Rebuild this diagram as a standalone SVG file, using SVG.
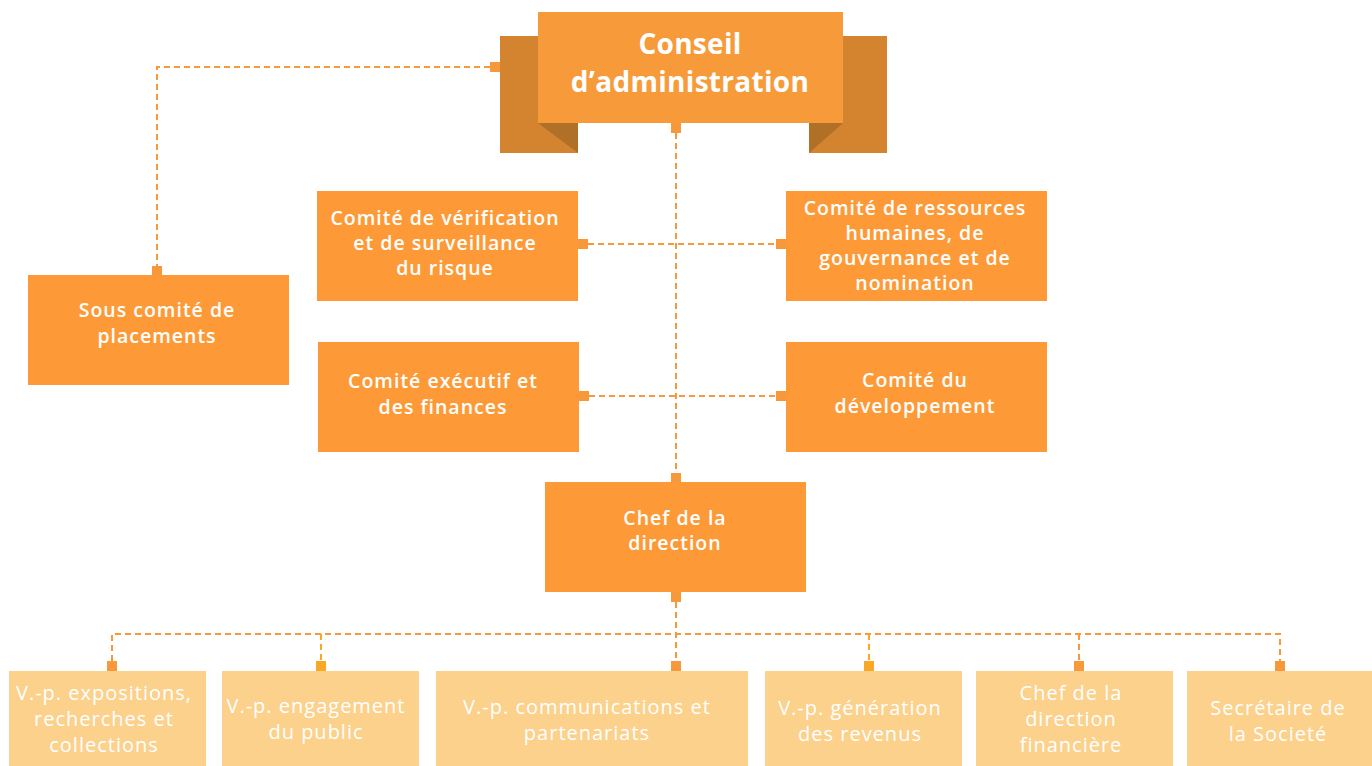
<svg xmlns="http://www.w3.org/2000/svg" width="1372" height="766" viewBox="0 0 1372 766">
<style>
.box{fill:#fd9a37}
.vp{fill:#fbd18c}
.rib{fill:#d4832f}
.fold{fill:#b07028}
.ln{fill:none;stroke:#f7993a;stroke-width:2;stroke-dasharray:6 4}
.lny{fill:none;stroke:#f9a825;stroke-width:2;stroke-dasharray:6 4}
.mk{fill:#f7993a}
.mky{fill:#f9a825}
text{font-family:"Open Sans","Liberation Sans",sans-serif;fill:#ffffff;text-anchor:middle}
.t{font-size:19.5px;font-weight:600;letter-spacing:1px}
.tb{font-size:28px;font-weight:700;letter-spacing:0.3px}
.tv{font-size:20px;font-weight:400;letter-spacing:1px}
</style>
<rect width="1372" height="766" fill="#ffffff"/>
<g id="connectors">
<path class="ln" d="M490 67 H157 V266"/>
<rect class="mk" x="490" y="62" width="10" height="10"/>
<rect class="mk" x="152" y="266" width="10" height="9"/>
<path class="ln" d="M676 133 V473"/>
<rect class="mk" x="671" y="123" width="10" height="10"/>
<rect class="mk" x="671" y="473" width="10" height="9"/>
<path class="ln" d="M588 244 H776"/>
<rect class="mk" x="578" y="239" width="10" height="10"/>
<rect class="mk" x="776" y="239" width="10" height="10"/>
<path class="ln" d="M589 396 H776"/>
<rect class="mk" x="579" y="391" width="10" height="10"/>
<rect class="mk" x="776" y="391" width="10" height="10"/>
<rect class="mk" x="671" y="592" width="10" height="10"/>
<path class="ln" d="M676 602 V661"/>
<path class="ln" d="M112 661 V634 H1280 V661"/>
<path class="lny" d="M321 634 V661"/>
<path class="lny" d="M869 634 V661"/>
<path class="ln" d="M1079 634 V661"/>
<rect class="mk" x="107" y="661" width="10" height="10"/>
<rect class="mky" x="316" y="661" width="10" height="10"/>
<rect class="mk" x="671" y="661" width="10" height="10"/>
<rect class="mky" x="864" y="661" width="10" height="10"/>
<rect class="mk" x="1074" y="661" width="10" height="10"/>
<rect class="mk" x="1275" y="661" width="10" height="10"/>
</g>
<g id="conseil">
<rect class="rib" x="500" y="36" width="78" height="117"/>
<polygon class="fold" points="538,123 578,123 578,153"/>
<rect class="rib" x="809" y="36" width="78" height="117"/>
<polygon class="fold" points="843,123 809,123 809,153"/>
<rect x="538" y="12" width="305" height="111" fill="#f79a3a"/>
<text class="tb" x="690" y="54">Conseil</text>
<text class="tb" x="690" y="92">d’administration</text>
</g>
<g id="sous-comite">
<rect class="box" x="28" y="275" width="261" height="110"/>
<text class="t" x="157" y="317">Sous comité de</text>
<text class="t" x="157" y="343">placements</text>
</g>
<g id="verification">
<rect class="box" x="317" y="191" width="261" height="110"/>
<text class="t" x="445" y="225">Comité de vérification</text>
<text class="t" x="445" y="250">et de surveillance</text>
<text class="t" x="445" y="275">du risque</text>
</g>
<g id="ressources">
<rect class="box" x="786" y="191" width="261" height="110"/>
<text class="t" x="915" y="215">Comité de ressources</text>
<text class="t" x="915" y="240">humaines, de</text>
<text class="t" x="915" y="265">gouvernance et de</text>
<text class="t" x="915" y="290">nomination</text>
</g>
<g id="executif">
<rect class="box" x="318" y="342" width="261" height="110"/>
<text class="t" x="443" y="388">Comité exécutif et</text>
<text class="t" x="443" y="414">des finances</text>
</g>
<g id="developpement">
<rect class="box" x="786" y="342" width="261" height="110"/>
<text class="t" x="915" y="387">Comité du</text>
<text class="t" x="915" y="413">développement</text>
</g>
<g id="chef">
<rect class="box" x="545" y="482" width="261" height="110"/>
<text class="t" x="675" y="525">Chef de la</text>
<text class="t" x="675" y="550">direction</text>
</g>
<g id="vp-expositions">
<rect class="vp" x="9" y="671" width="197" height="95"/>
<text class="tv" x="104" y="700">V.-p. expositions,</text>
<text class="tv" x="104" y="726">recherches et</text>
<text class="tv" x="104" y="752">collections</text>
</g>
<g id="vp-engagement">
<rect class="vp" x="222" y="671" width="197" height="95"/>
<text class="tv" x="316" y="713">V.-p. engagement</text>
<text class="tv" x="316" y="739">du public</text>
</g>
<g id="vp-communications">
<rect class="vp" x="436" y="671" width="312" height="95"/>
<text class="tv" x="587" y="714">V.-p. communications et</text>
<text class="tv" x="587" y="740">partenariats</text>
</g>
<g id="vp-revenus">
<rect class="vp" x="765" y="671" width="197" height="95"/>
<text class="tv" x="860" y="715">V.-p. génération</text>
<text class="tv" x="860" y="741">des revenus</text>
</g>
<g id="chef-financiere">
<rect class="vp" x="976" y="671" width="197" height="95"/>
<text class="tv" x="1071" y="700">Chef de la</text>
<text class="tv" x="1071" y="726">direction</text>
<text class="tv" x="1071" y="752">financière</text>
</g>
<g id="secretaire">
<rect class="vp" x="1187" y="671" width="185" height="95"/>
<text class="tv" x="1278" y="715">Secrétaire de</text>
<text class="tv" x="1278" y="741">la Societé</text>
</g>
</svg>
